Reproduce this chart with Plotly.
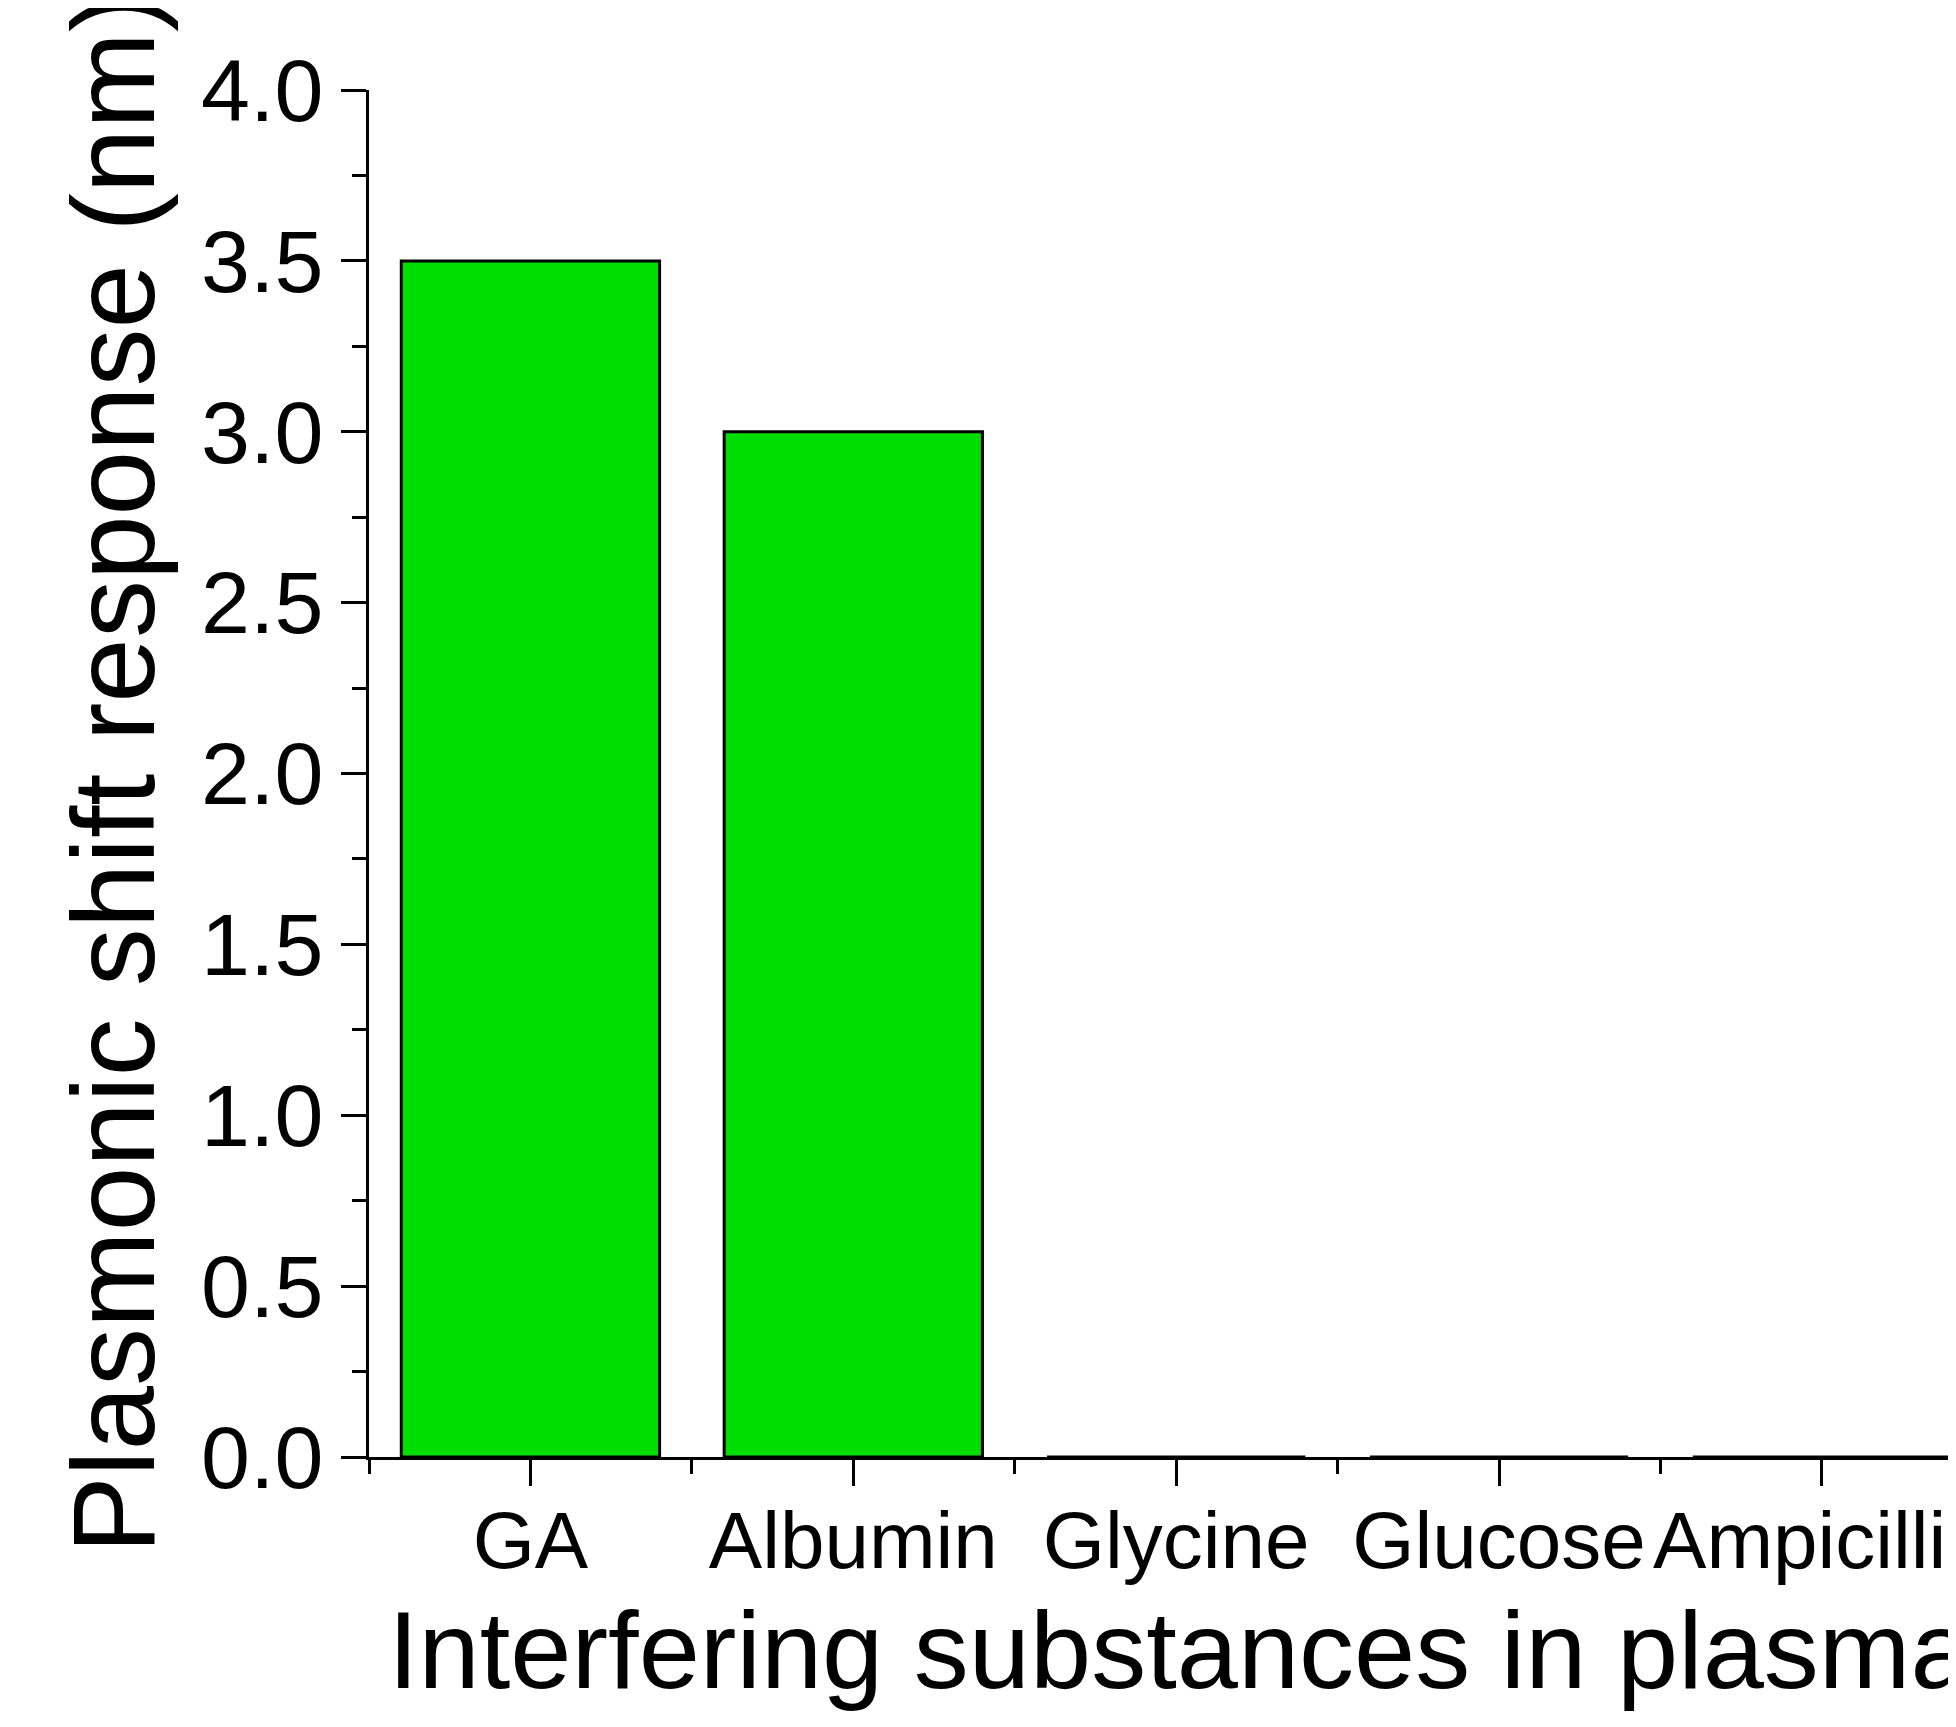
import plotly.graph_objects as go

categories = ["GA", "Albumin", "Glycine", "Glucose", "Ampicillin"]
shift_nm = [3.5, 3.0, 0.0, 0.0, 0.0]
y_ticks = [0.0, 0.5, 1.0, 1.5, 2.0, 2.5, 3.0, 3.5, 4.0]
x_title = "Interfering substances in plasma"
y_title = "Plasmonic shift response (nm)"

xpos = list(range(len(categories)))

fig = go.Figure(
    go.Bar(
        x=xpos,
        y=shift_nm,
        width=0.8,
        marker=dict(color="#00DD00", line=dict(color="black", width=3)),
        cliponaxis=False,
    )
)

FONT = "Liberation Sans, Arial, sans-serif"

fig.update_layout(
    width=1956,
    height=1727,
    margin=dict(l=361, r=0, t=82, b=278),
    paper_bgcolor="white",
    plot_bgcolor="white",
    showlegend=False,
    font=dict(family=FONT, color="black"),
)

fig.update_xaxes(
    range=[-0.5, 4.44],
    tickvals=xpos,
    ticktext=categories,
    tickfont=dict(size=80, family=FONT, color="black"),
    ticks="outside",
    ticklen=26,
    tickwidth=3,
    tickcolor="black",
    ticklabeloverflow="allow",
    ticklabelstandoff=-14,
    minor=dict(tick0=-0.5, dtick=1, ticks="outside", ticklen=14, tickwidth=3, tickcolor="black", showgrid=False),
    showline=True,
    linecolor="black",
    linewidth=3,
    showgrid=False,
    zeroline=False,
    automargin=False,
)

fig.add_annotation(
    text=x_title,
    xref="x domain",
    yref="paper",
    x=0.0105,
    y=0,
    xanchor="left",
    yanchor="top",
    yshift=-129,
    showarrow=False,
    font=dict(size=110, family=FONT, color="black"),
)

fig.update_yaxes(
    range=[0, 4],
    tickvals=y_ticks,
    ticktext=[f"{v:.1f}" for v in y_ticks],
    tickfont=dict(size=88, family=FONT, color="black"),
    ticks="outside",
    ticklen=25,
    tickwidth=3,
    tickcolor="black",
    minor=dict(tick0=0, dtick=0.25, ticks="outside", ticklen=14, tickwidth=3, tickcolor="black", showgrid=False),
    showline=True,
    linecolor="black",
    linewidth=3,
    showgrid=False,
    zeroline=False,
    automargin=False,
    title=dict(text=y_title, font=dict(size=116, family=FONT, color="black"), standoff=8),
)

fig.write_html("out.html")
